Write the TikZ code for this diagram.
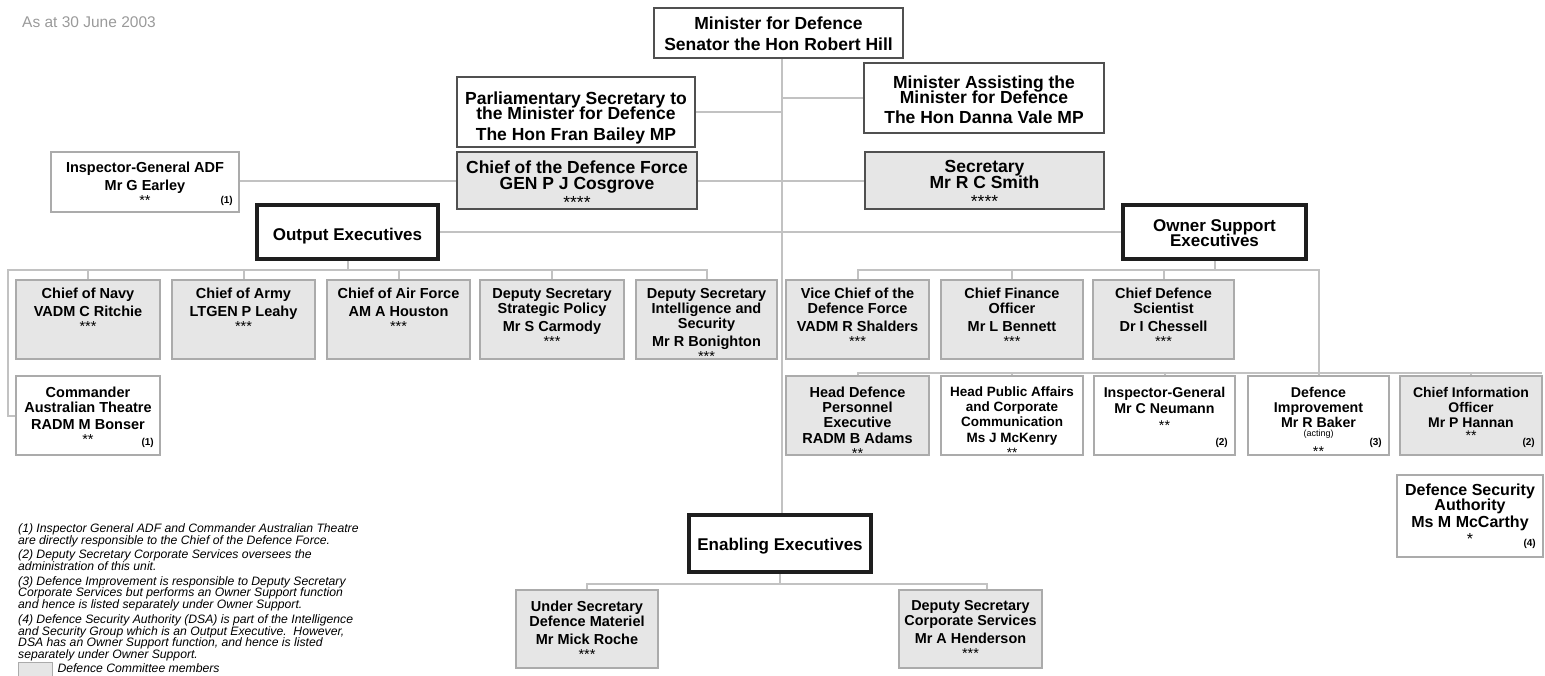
\documentclass[tikz,border=0pt]{standalone}
\usepackage{fontspec}
\setmainfont{Liberation Sans}
\usetikzlibrary{calc}
\definecolor{connc}{HTML}{C2C2C2}
\definecolor{topb}{HTML}{505050}
\definecolor{headb}{HTML}{1E1E1E}
\definecolor{rowb}{HTML}{ABABAB}
\definecolor{boxfill}{HTML}{E6E6E6}
\definecolor{dategray}{HTML}{9A9A9A}
\pgfdeclarelayer{bg}
\pgfsetlayers{bg,main}
\newcommand\bx[9]{%
  \pgfmathsetmacro\bxw{#6-#4}%
  \pgfmathsetmacro\bxh{#7-#5}%
  \pgfmathsetmacro\bxc{(#4+#6)/2}%
  \pgfmathsetmacro\bxm{(#5+#7)/2}%
  \node[#2, minimum width=\bxw pt, minimum height=\bxh pt] (#1) at (\bxc,\bxm) {};%
  \node[#3] (#1-t) at (\bxc,#8) {#9};}
\tikzset{
  boxbase/.style={rectangle, inner sep=0pt, outer sep=0pt},
  topbox/.style={boxbase, draw=topb, line width=2.5pt, fill=white},
  topgray/.style={topbox, fill=boxfill},
  headbox/.style={boxbase, draw=headb, line width=3.5pt, fill=white},
  rowbox/.style={boxbase, draw=rowb, line width=2pt, fill=white},
  rowgray/.style={rowbox, fill=boxfill},
  txt/.style={anchor=north, align=center, inner sep=0pt},
  tbig/.style={txt, font=\bfseries\fontsize{17.5}{15}\selectfont},
  thead/.style={txt, font=\bfseries\fontsize{17}{15}\selectfont},
  trow/.style={txt, font=\bfseries\fontsize{#1}{15}\selectfont},
  trow/.default=14.5,
  fnmark/.style={anchor=south east, inner sep=0pt, font=\bfseries\fontsize{10}{10}\selectfont},
  conn/.style={draw=connc, line width=2pt},
}
\begin{document}
\lineskiplimit=-100pt
\lineskip=0pt
\begin{tikzpicture}[x=1pt,y=-1pt]
\useasboundingbox (0,0) rectangle (1545,675);
\clip (0,0) rectangle (1545,675);

\node[anchor=base west, inner sep=0pt, text=dategray, font=\fontsize{15.5}{15}\selectfont] (date) at (22,27.6) {As at 30 June 2003};

% top level
\bx{min}{topbox}{tbig}{654}{8}{903}{58}{16.5}{Minister for Defence\\[6pt]Senator the Hon Robert Hill}
\bx{parl}{topbox}{tbig}{457}{77}{695}{147}{91.5}{Parliamentary Secretary to\\the Minister for Defence\\[6pt]The Hon Fran Bailey MP}
\bx{massist}{topbox}{tbig}{864}{63}{1104}{133}{75.5}{Minister Assisting the\\Minister for Defence\\[5pt]The Hon Danna Vale MP}
\bx{cdf}{topgray}{tbig}{457}{152}{697}{209}{160.5}{Chief of the Defence Force\\[1pt]GEN P J Cosgrove\\[4pt]\textmd{****}}
\bx{sec}{topgray}{tbig}{865}{152}{1104}{209}{160.5}{Secretary\\[1pt]Mr R C Smith\\[4pt]\textmd{****}}
\bx{igadf}{rowbox}{trow}{51}{152}{239}{212}{161.7}{Inspector-General ADF\\[3pt]Mr G Earley\\\textmd{**}}
\node[fnmark] (igadf-m) at ([shift={(-6pt,6pt)}]igadf.south east) {(1)};

% group heads
\bx{outx}{headbox}{thead}{257}{205}{438}{259}{227.8}{Output Executives}
\bx{owner}{headbox}{thead}{1123}{205}{1306}{259}{219.8}{Owner Support\\Executives}
\bx{enab}{headbox}{thead}{689}{515}{871}{572}{537.8}{Enabling Executives}

% output executives
\bx{navy}{rowgray}{trow}{16}{280}{160}{359}{287.7}{Chief of Navy\\[3pt]VADM C Ritchie\\\textmd{***}}
\bx{army}{rowgray}{trow}{172}{280}{315}{359}{287.7}{Chief of Army\\[3pt]LTGEN P Leahy\\\textmd{***}}
\bx{airf}{rowgray}{trow}{327}{280}{470}{359}{287.7}{Chief of Air Force\\[3pt]AM A Houston\\\textmd{***}}
\bx{dssp}{rowgray}{trow}{480}{280}{624}{359}{287.7}{Deputy Secretary\\Strategic Policy\\[3pt]Mr S Carmody\\\textmd{***}}
\bx{dsis}{rowgray}{trow}{636}{280}{777}{359}{287.7}{Deputy Secretary\\Intelligence and\\Security\\[3pt]Mr R Bonighton\\\textmd{***}}
\bx{cat}{rowbox}{trow}{16}{376}{160}{455}{386.7}{Commander\\Australian Theatre\\[2pt]RADM M Bonser\\\textmd{**}}
\node[fnmark] (cat-m) at ([shift={(-6pt,7pt)}]cat.south east) {(1)};

% owner support executives
\bx{vcdf}{rowgray}{trow}{786}{280}{929}{359}{287.7}{Vice Chief of the\\Defence Force\\[3pt]VADM R Shalders\\\textmd{***}}
\bx{cfo}{rowgray}{trow}{941}{280}{1083}{359}{287.7}{Chief Finance\\Officer\\[3pt]Mr L Bennett\\\textmd{***}}
\bx{cds}{rowgray}{trow}{1093}{280}{1234}{359}{287.7}{Chief Defence\\Scientist\\[3pt]Dr I Chessell\\\textmd{***}}
\bx{hdpe}{rowgray}{trow}{786}{376}{929}{455}{386.7}{Head Defence\\Personnel\\Executive\\[1pt]RADM B Adams\\\textmd{**}}
\bx{hpacc}{rowbox}{trow=13.5}{941}{376}{1083}{455}{386.7}{Head Public Affairs\\and Corporate\\Communication\\[1pt]Ms J McKenry\\\textmd{**}}
\bx{ig}{rowbox}{trow=14.2}{1094}{376}{1235}{455}{386.7}{Inspector-General\\[1pt]Mr C Neumann\\[2pt]\textmd{**}}
\node[fnmark] (ig-m) at ([shift={(-7pt,7pt)}]ig.south east) {(2)};
\bx{di}{rowbox}{trow=14.2}{1248}{376}{1389}{455}{386.7}{Defence\\Improvement\\Mr R Baker\\[-6pt]{\mdseries\fontsize{9}{9}\selectfont (acting)}\\[5pt]\textmd{**}}
\node[fnmark] (di-m) at ([shift={(-7pt,7pt)}]di.south east) {(3)};
\bx{cio}{rowgray}{trow=14}{1400}{376}{1542}{455}{386.7}{Chief Information\\Officer\\Mr P Hannan\\[-2pt]\textmd{**}}
\node[fnmark] (cio-m) at ([shift={(-7pt,7pt)}]cio.south east) {(2)};
\bx{dsa}{rowbox}{trow=16}{1397}{475}{1543}{557}{484}{Defence Security\\Authority\\[2pt]Ms M McCarthy\\[1.5pt]\textmd{*}}
\node[fnmark] (dsa-m) at ([shift={(-7pt,8pt)}]dsa.south east) {(4)};

% enabling executives
\bx{usdm}{rowgray}{trow}{516}{590}{658}{668}{600.7}{Under Secretary\\Defence Materiel\\[3pt]Mr Mick Roche\\\textmd{***}}
\bx{dscs}{rowgray}{trow=14.4}{899}{590}{1042}{668}{600.7}{Deputy Secretary\\Corporate Services\\[3pt]Mr A Henderson\\\textmd{***}}

% notes and legend
\node[anchor=north west, align=left, inner sep=0pt, font=\itshape\fontsize{12.2}{11.8}\selectfont] (notes) at (18,523.3) {%
(1) Inspector General ADF and Commander Australian Theatre\\
are directly responsible to the Chief of the Defence Force.\\[2.8pt]
(2) Deputy Secretary Corporate Services oversees the\\
administration of this unit.\\[2.8pt]
(3) Defence Improvement is responsible to Deputy Secretary\\
Corporate Services but performs an Owner Support function\\
and hence is listed separately under Owner Support.\\[2.8pt]
(4) Defence Security Authority (DSA) is part of the Intelligence\\
and Security Group which is an Output Executive.\ \ However,\\
DSA has an Owner Support function, and hence is listed\\
separately under Owner Support.};
\node[rowgray, line width=1.5pt, minimum width=34pt, minimum height=20pt, anchor=north west] (leg) at (18.5,662.5) {};
\node[anchor=base west, inner sep=0pt, font=\itshape\fontsize{12.2}{12}\selectfont] (legt) at (57.3,672.7) {Defence Committee members};

% connectors
\begin{pgfonlayer}{bg}
\coordinate (spine) at (782,0);
\coordinate (obus) at (8,270);
\coordinate (owbus) at (0,270);
\coordinate (ow2) at (0,373);
\coordinate (ebus) at (0,584);
\coordinate (dscsd) at ([xshift=16pt]dscs.north);
\draw[conn] (min.south -| spine) -- (enab.north -| spine);
\draw[conn] (parl.east) -- (parl.east -| spine);
\draw[conn] (massist.west) -- (massist.west -| spine);
\draw[conn] (cdf.east) -- (sec.west);
\draw[conn] (igadf.east |- cdf.west) -- (cdf.west);
\draw[conn] (outx.east) -- (owner.west);
\draw[conn] (outx.south) -- (outx.south |- obus);
\draw[conn] (cat.west) -| (obus) -- (obus -| dsis.north) -- (dsis.north);
\foreach \n in {navy,army,airf,dssp} \draw[conn] (\n.north) -- (\n.north |- obus);
\draw[conn] (owner.south) -- (owner.south |- owbus);
\draw[conn] (vcdf.north) -- (vcdf.north |- owbus) -- (owbus -| di.north) -- (di.north);
\foreach \n in {cfo,cds} \draw[conn] (\n.north) -- (\n.north |- owbus);
\draw[conn] (hdpe.north) -- (hdpe.north |- ow2) -- (ow2 -| cio.north east);
\foreach \n in {hpacc,ig,cio} \draw[conn] (\n.north) -- (\n.north |- ow2);
\draw[conn] (enab.south) -- (enab.south |- ebus);
\draw[conn] (usdm.north) -- (usdm.north |- ebus) -- (ebus -| dscsd) -- (dscsd);
\end{pgfonlayer}
\end{tikzpicture}
\end{document}
